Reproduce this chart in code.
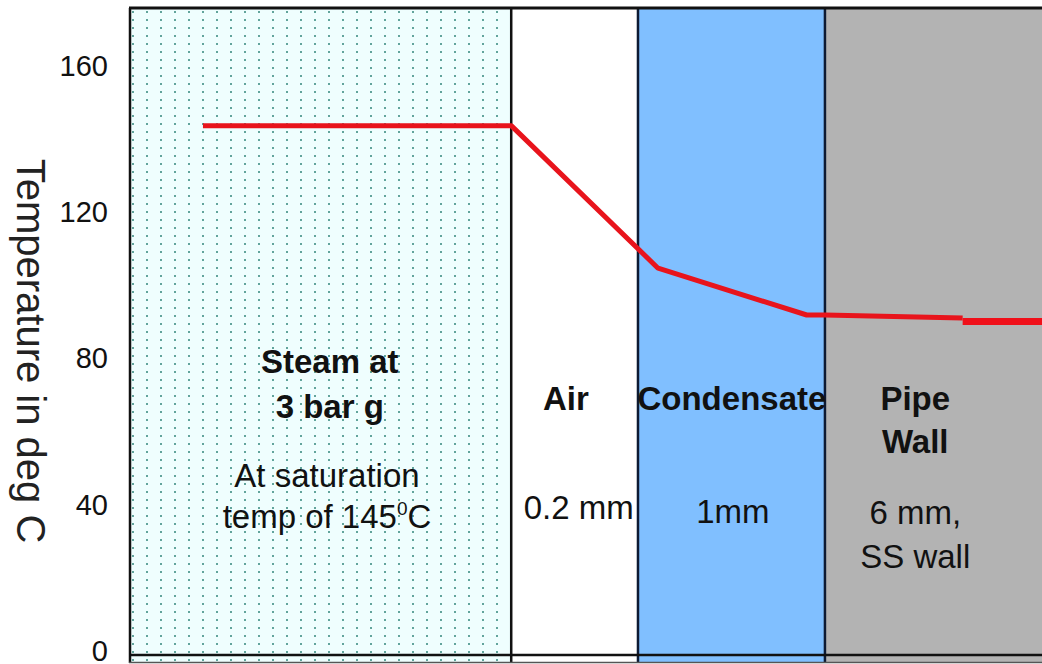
<!DOCTYPE html>
<html lang="en">
  <head>
    <meta charset="UTF-8" />
    <title>Temperature profile through pipe wall</title>
    <script src="https://cdn.jsdelivr.net/npm/d3@7"></script>
    <style>
      body {
        margin: 0;
        background: #fff;
      }
      text {
        font-family: "Liberation Sans", Arial, sans-serif;
        fill: #111;
      }
    </style>
  </head>
  <body>
    <div class="chart"></div>

    <script>
      // layers, left to right (position units along the section)
      const layerNames = ["Steam", "Air", "Condensate", "Pipe Wall"];
      const layerStart = [0, 41.8, 55.7, 76.2];
      const layerEnd = [41.8, 55.7, 76.2, 104];

      // temperature profile (deg C)
      const profileX = [8.0, 41.8, 57.9, 74.2, 76.2, 91.3];
      const profileT = [144, 144, 105, 92.2, 92.2, 91.4];
      // the heavier end piece inside the wall
      const wallX = [91.3, 100];
      const wallT = [90.4, 90.4];

      const yTicks = [0, 40, 80, 120, 160];

      const width = 1042;
      const height = 664;
      const margin = { top: 8, right: 0, bottom: 12, left: 130 };

      const svg = d3
        .select(".chart")
        .append("svg")
        .attr("width", width)
        .attr("height", height)
        .attr("viewBox", [0, 0, width, height]);

      const x = d3
        .scaleLinear()
        .domain([0, 100])
        .range([margin.left, width]);

      const y = d3
        .scaleLinear()
        .domain([0, 176])
        .range([652, margin.top + 0.7]);

      const fill = d3
        .scaleOrdinal()
        .domain(layerNames)
        .range(["url(#steamDots)", "#ffffff", "#80bfff", "#b3b3b3"]);

      // dotted fill for the steam layer
      const defs = svg.append("defs");
      const pat = defs
        .append("pattern")
        .attr("id", "steamDots")
        .attr("patternUnits", "userSpaceOnUse")
        .attr("x", 126)
        .attr("y", 8)
        .attr("width", 14)
        .attr("height", 8);
      pat.append("rect").attr("width", 14).attr("height", 8).attr("fill", "#effefe");
      pat
        .append("rect")
        .attr("x", 6)
        .attr("y", 3)
        .attr("width", 2)
        .attr("height", 2)
        .attr("fill", "#62a49c");

      const bottom = height - 1;

      // layer bands
      svg
        .append("g")
        .selectAll("rect")
        .data(layerNames)
        .enter()
        .append("rect")
        .attr("x", (d, i) => x(layerStart[i]))
        .attr("y", margin.top)
        .attr("width", (d, i) => x(layerEnd[i]) - x(layerStart[i]))
        .attr("height", bottom - margin.top)
        .attr("fill", (d) => fill(d));

      // layer boundaries
      svg
        .append("g")
        .selectAll("line")
        .data(layerStart)
        .enter()
        .append("line")
        .attr("x1", (d) => x(d))
        .attr("x2", (d) => x(d))
        .attr("y1", margin.top)
        .attr("y2", bottom)
        .attr("stroke", (d, i) => (i < 2 ? "#111" : "#0d1a33"))
        .attr("stroke-width", 2.5);

      // top border and base line
      svg
        .append("line")
        .attr("x1", x(0) - 1)
        .attr("x2", width)
        .attr("y1", margin.top)
        .attr("y2", margin.top)
        .attr("stroke", "#111")
        .attr("stroke-width", 3);

      svg
        .append("line")
        .attr("x1", x(0) - 1)
        .attr("x2", width)
        .attr("y1", 655)
        .attr("y2", 655)
        .attr("stroke", "#111")
        .attr("stroke-width", 2.5);

      svg
        .append("line")
        .attr("x1", x(0) - 1)
        .attr("x2", width)
        .attr("y1", bottom - 0.5)
        .attr("y2", bottom - 0.5)
        .attr("stroke", "#555")
        .attr("stroke-width", 1.5);

      // y axis: labels only
      const yAxis = d3
        .axisLeft(y)
        .tickValues(yTicks)
        .tickSize(0)
        .tickPadding(0);

      const yg = svg
        .append("g")
        .attr("transform", "translate(108,-1)")
        .call(yAxis);
      yg.select(".domain").remove();
      yg.selectAll("text")
        .attr("fill", "#222")
        .style("font-size", "29px")
        .style("font-family", "'Liberation Sans', Arial, sans-serif");

      svg
        .append("text")
        .attr("transform", "translate(17,351) rotate(90)")
        .attr("text-anchor", "middle")
        .style("font-size", "40px")
        .style("fill", "#222")
        .text("Temperature in deg C");

      // temperature line
      const line = d3
        .line()
        .x((d) => x(d[0]))
        .y((d) => y(d[1]));

      svg
        .append("path")
        .datum(d3.zip(profileX, profileT))
        .attr("d", line)
        .attr("fill", "none")
        .attr("stroke", "#e8141c")
        .attr("stroke-width", 5)
        .attr("stroke-linejoin", "round");

      svg
        .append("path")
        .datum(d3.zip(wallX, wallT))
        .attr("d", line)
        .attr("fill", "none")
        .attr("stroke", "#f0101a")
        .attr("stroke-width", 7);

      // layer labels: [text, x position, temperature baseline, bold]
      const labels = [
        ["Steam at", 21.9, 76.3, true],
        ["3 bar g", 21.9, 64.0, true],
        ["At saturation", 21.6, 45.1, false],
        ["Air", 47.8, 66.2, true],
        ["0.2 mm", 49.2, 36.4, false],
        ["Condensate", 66.0, 66.2, true],
        ["1mm", 66.1, 35.3, false],
        ["Pipe", 86.1, 66.2, true],
        ["Wall", 86.1, 54.4, true],
        ["6 mm,", 86.1, 35.0, false],
        ["SS wall", 86.1, 23.0, false],
      ];

      svg
        .append("g")
        .selectAll("text")
        .data(labels)
        .enter()
        .append("text")
        .attr("x", (d) => x(d[1]))
        .attr("y", (d) => y(d[2]))
        .attr("text-anchor", "middle")
        .style("font-size", "33px")
        .style("font-weight", (d) => (d[3] ? "bold" : "normal"))
        .text((d) => d[0]);

      const sat = svg
        .append("text")
        .attr("x", x(21.6))
        .attr("y", y(33.9))
        .attr("text-anchor", "middle")
        .style("font-size", "33px");
      sat.append("tspan").text("temp of 145");
      sat
        .append("tspan")
        .attr("dy", -13)
        .style("font-size", "19px")
        .text("0");
      sat.append("tspan").attr("dy", 13).text("C");
    </script>
  </body>
</html>
